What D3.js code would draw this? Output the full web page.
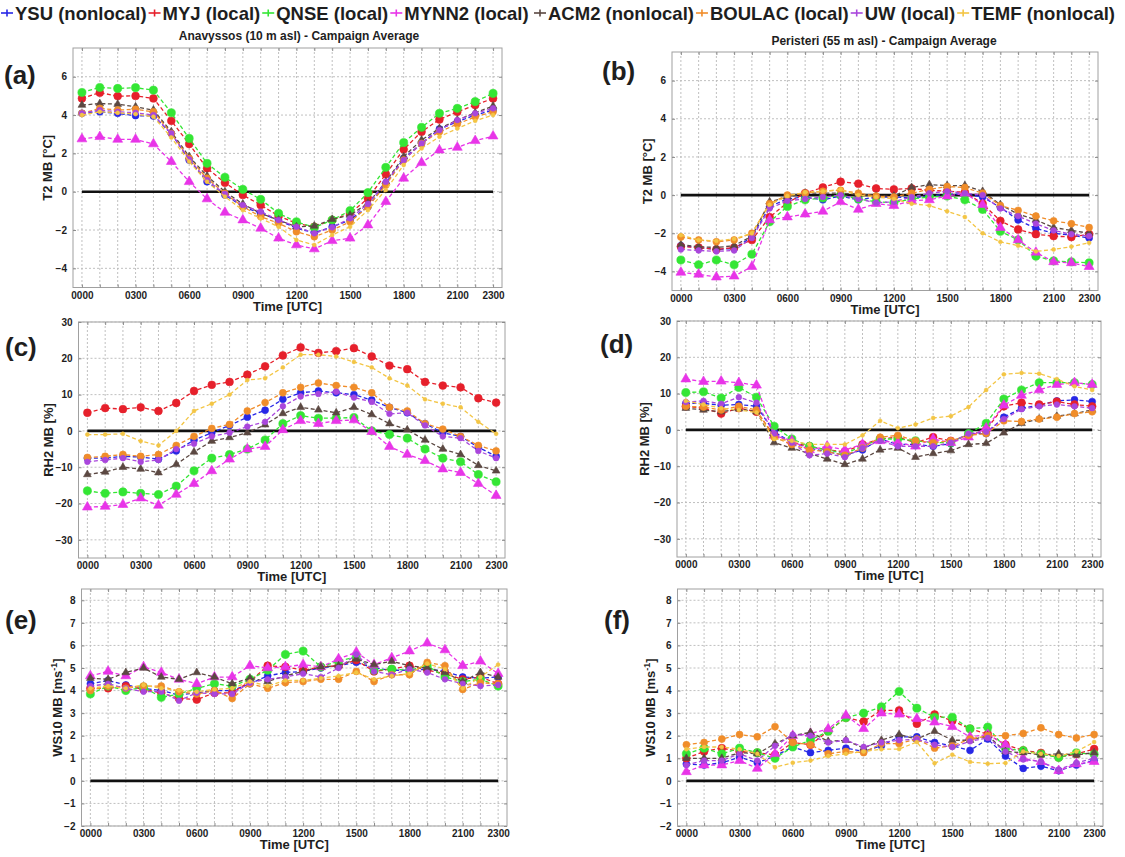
<!DOCTYPE html>
<html>
<head>
<meta charset="utf-8">
<script src="https://cdn.jsdelivr.net/npm/d3@7"></script>
<style>
  html, body { margin: 0; padding: 0; background: #fff; }
  svg { display: block; }
  text { font-family: "Liberation Sans", Arial, sans-serif; font-weight: bold; fill: #1e1e1e; }
</style>
</head>
<body>
<svg id="chart" width="1125" height="857"></svg>
<script>
// PBL schemes (order of the legend)
const schemes = ["YSU", "MYJ", "QNSE", "MYNN2", "ACM2", "BOULAC", "UW", "TEMF"];
const schemeLabels = ["YSU (nonlocal)", "MYJ (local)", "QNSE (local)", "MYNN2 (local)",
                      "ACM2 (nonlocal)", "BOULAC (local)", "UW (local)", "TEMF (nonlocal)"];

// hourly time axis (UTC)
const hours = [0,1,2,3,4,5,6,7,8,9,10,11,12,13,14,15,16,17,18,19,20,21,22,23];
const hourLabels = [0, 3, 6, 9, 12, 15, 18, 21, 23];

// y tick values
const t2Ticks = [-4, -2, 0, 2, 4, 6];
const rhTicks = [-30, -20, -10, 0, 10, 20, 30];
const wsTicks = [-2, -1, 0, 1, 2, 3, 4, 5, 6, 7, 8];

// 2 m temperature mean bias [°C] – Anavyssos
const t2Anavyssos = {
  YSU:    [4.09,4.17,4.09,3.97,3.95,3.04,1.65,0.52,-0.17,-0.78,-1.13,-1.48,-1.91,-2.14,-1.83,-1.48,-0.78,0.43,1.74,2.52,3.27,3.65,4.0,4.26],
  MYJ:    [4.87,5.17,4.99,5.0,4.87,3.7,2.49,1.22,0.47,-0.17,-0.7,-1.27,-1.65,-1.83,-1.48,-1.13,-0.35,0.92,2.21,3.13,3.77,4.17,4.52,4.87],
  QNSE:   [5.18,5.44,5.39,5.43,5.3,4.12,2.78,1.48,0.75,0.12,-0.4,-1.13,-1.57,-1.86,-1.48,-0.99,-0.05,1.27,2.56,3.36,4.09,4.35,4.7,5.13],
  MYNN2:  [2.75,2.87,2.73,2.73,2.49,1.57,0.52,-0.38,-1.08,-1.48,-1.91,-2.43,-2.78,-2.99,-2.56,-2.43,-1.74,-0.52,0.7,1.51,2.17,2.31,2.66,2.9],
  ACM2:   [4.52,4.6,4.57,4.43,4.26,3.13,1.83,0.82,0.0,-0.64,-1.13,-1.48,-1.83,-1.79,-1.44,-1.22,-0.61,0.52,1.83,2.7,3.3,3.74,4.12,4.47],
  BOULAC: [4.09,4.35,4.26,4.3,4.17,3.04,1.74,0.7,-0.09,-0.78,-1.3,-1.65,-2.09,-2.35,-2.0,-1.57,-0.78,0.35,1.65,2.52,3.13,3.53,3.91,4.17],
  UW:     [4.09,4.26,4.17,4.12,4.0,3.04,1.69,0.61,-0.12,-0.7,-1.04,-1.48,-1.83,-2.17,-1.86,-1.39,-0.64,0.52,1.65,2.52,3.22,3.74,4.09,4.35],
  TEMF:   [4.0,4.17,4.12,4.05,3.91,2.83,1.57,0.52,-0.26,-0.96,-1.39,-1.83,-2.52,-2.78,-2.26,-1.83,-0.96,0.09,1.39,2.26,2.87,3.3,3.7,4.0]
};

// 2 m temperature mean bias [°C] – Peristeri
const t2Peristeri = {
  YSU:    [-2.65,-2.75,-2.85,-2.8,-2.2,-0.6,-0.2,-0.1,-0.25,-0.05,-0.25,-0.1,-0.1,-0.15,-0.05,0.05,0.05,-0.1,-0.65,-1.3,-1.75,-2.0,-2.1,-2.25],
  MYJ:    [-2.7,-2.75,-2.85,-2.75,-2.35,-1.15,-0.4,0.1,0.4,0.7,0.6,0.35,0.3,0.35,0.25,0.2,0.15,-0.45,-1.35,-1.8,-2.05,-2.15,-2.2,-2.05],
  QNSE:   [-3.4,-3.65,-3.4,-3.65,-3.1,-1.4,-0.6,-0.25,-0.15,0.0,-0.2,-0.35,-0.4,-0.2,-0.1,-0.05,-0.25,-0.75,-1.9,-2.35,-3.2,-3.45,-3.5,-3.55],
  MYNN2:  [-4.05,-4.15,-4.3,-4.25,-3.75,-1.3,-1.15,-1.0,-0.85,-0.35,-0.75,-0.45,-0.55,-0.3,-0.25,-0.05,0.1,-0.5,-1.7,-2.35,-3.0,-3.5,-3.55,-3.75],
  ACM2:   [-2.6,-2.7,-2.75,-2.65,-2.15,-0.35,-0.1,0.1,0.1,0.1,0.05,-0.05,-0.05,0.4,0.55,0.5,0.5,0.2,-0.5,-1.0,-1.3,-1.7,-1.85,-2.0],
  BOULAC: [-2.2,-2.35,-2.45,-2.35,-2.0,-0.45,0.0,0.1,0.2,0.25,0.1,-0.05,-0.1,0.1,0.3,0.45,0.4,0.1,-0.55,-0.8,-1.1,-1.35,-1.5,-1.7],
  UW:     [-2.85,-2.9,-2.95,-2.9,-2.25,-0.7,-0.3,-0.2,-0.1,0.0,-0.2,-0.4,-0.35,-0.1,0.1,0.2,0.1,0.0,-0.7,-1.1,-1.5,-1.85,-2.05,-2.15],
  TEMF:   [-2.1,-2.35,-2.4,-2.3,-2.0,-0.5,-0.05,0.15,0.2,0.3,0.0,-0.1,-0.2,-0.45,-0.55,-0.85,-1.15,-2.0,-2.45,-2.65,-2.95,-2.85,-2.7,-2.5]
};

// 2 m relative humidity mean bias [%] – Anavyssos
const rh2Anavyssos = {
  YSU:    [-7.5,-7.5,-7,-7.2,-7.8,-5.5,-2.5,-0.5,1.5,3.8,5.7,8.7,10.5,11,10.5,10,8.5,6.5,5,2,-0.5,-1.5,-4.5,-7],
  MYJ:    [5,6.3,6,6.5,5.5,7.7,11,12.7,13.5,15.5,17.8,20.8,23,21.5,22,22.8,20.5,18,17,13.5,12.5,12,9,7.8],
  QNSE:   [-16.5,-17.2,-16.8,-17.2,-17.5,-15.2,-11,-7.5,-6.5,-5,-2.5,2,4.2,3.5,3.5,3.7,0,-1,-2,-5,-7.5,-8.5,-12,-14],
  MYNN2:  [-21,-20.8,-20.3,-18.5,-20.5,-17.5,-14.5,-11,-7.8,-5,-4.3,0.3,2.8,2,2.8,3,-0.2,-4.3,-6.5,-8.2,-10.5,-11.5,-14.5,-17.8],
  ACM2:   [-12,-11.3,-10,-10.5,-11.5,-9.2,-5.8,-2.8,-1.8,-0.5,1.7,4.8,6.5,5.8,5,6.5,4.5,2,0.3,-2.5,-5,-6.5,-9.5,-11],
  BOULAC: [-7.3,-7,-6.5,-7,-6.5,-4,-1.5,0.7,1.8,5.5,7.8,10.5,12,13.2,12.5,12,10.5,6.5,5.5,2,0.5,-1.5,-4,-5.5],
  UW:     [-8.5,-8,-7.5,-8.5,-8,-5,-3.5,-1.5,-0.5,1.2,2.5,6.8,9.5,10.2,10.8,9.2,8,4.7,5,1.5,-1.5,-2,-5.5,-7.5],
  TEMF:   [-1,-1,-0.8,-2.8,-4,0,5.5,7.5,10,14,14.5,17.5,21,21,20.5,19,17.5,14.5,12.5,8.7,7.5,6.5,2.5,-0.8]
};

// 2 m relative humidity mean bias [%] – Peristeri
const rh2Peristeri = {
  YSU:    [7.3,7.3,6.8,7,6.5,-0.5,-3.5,-5,-6,-7,-5.5,-2.5,-4,-4,-4.5,-3.8,-1,-1,3.5,6,6.8,8,8.3,7.8],
  MYJ:    [6.5,6,4.5,6,5,-1.5,-3.5,-4.5,-5.5,-6,-4,-2.5,-2,-3.5,-2,-3,-1.5,0,6.5,7.5,7,7.8,7,6.5],
  QNSE:   [10.3,10.5,8.8,11.7,9,1,-2.5,-4.5,-5.5,-6.5,-4.5,-2.5,-2.5,-3,-3.5,-3.5,-1,1.8,8.5,11,13,13,13,12.5],
  MYNN2:  [14,13.3,13.4,13,12.3,-1.5,-3,-5.5,-4.5,-5.5,-4,-3,-3.5,-4.5,-2.5,-3.5,-2,0.5,6.8,9.5,11,12.5,13,12.5],
  ACM2:   [6,5.5,5,5.8,5,-3.5,-5,-6.5,-8,-9.5,-8,-5.5,-5,-7.5,-6.5,-5.7,-4,-3.7,-0.8,1.8,3,3.8,4.5,5.5],
  BOULAC: [6.5,6.3,5.5,6.5,5.5,-2,-4,-5.5,-6,-7,-5,-2,-1.5,-3,-3.5,-3,-1.5,-1,2.5,2.3,3,3.5,4.5,5],
  UW:     [7.7,8,7.2,9,7.5,-1,-3.5,-7,-6.5,-7.5,-5,-3,-4.5,-4.5,-4.5,-3.5,-1,-0.5,3,5.7,6.5,7,6.5,6],
  TEMF:   [8,7,6,5.5,4.8,-2.5,-3,-4,-4,-4,-1.5,2.5,0.5,1.5,3.3,3.8,6.3,11,15.3,15.7,15.5,14,12,11]
};

// 10 m wind speed mean bias [m/s] – Anavyssos
const ws10Anavyssos = {
  YSU:    [4.3,4.45,4.25,4.1,4.0,3.8,3.9,4.0,4.0,4.3,4.65,4.8,4.85,5.0,5.1,5.25,5.0,4.9,4.9,4.95,4.85,4.6,4.55,4.6],
  MYJ:    [4.1,4.1,4.2,4.05,3.9,3.65,3.6,3.9,3.9,4.4,5.1,5.05,4.9,5.05,5.1,5.35,4.85,4.95,5.1,4.9,4.75,4.5,4.6,4.3],
  QNSE:   [3.85,4.2,4.0,4.15,3.7,3.85,4.1,4.3,4.2,4.5,4.9,5.6,5.75,5.05,5.3,5.5,4.9,4.95,4.9,5.1,4.6,4.4,4.5,4.2],
  MYNN2:  [4.65,4.85,4.65,5.05,4.8,4.5,4.3,4.6,4.6,5.1,5.0,5.05,5.15,5.05,5.4,5.7,5.15,5.45,5.75,6.1,5.8,5.1,5.3,4.75],
  ACM2:   [4.55,4.5,4.8,5.0,4.6,4.5,4.8,4.6,4.3,4.55,4.4,4.65,4.85,5.05,5.1,5.4,5.15,5.3,5.1,5.0,4.8,4.4,4.8,4.6],
  BOULAC: [4.0,4.2,4.1,4.2,4.2,3.95,3.85,4.0,3.65,4.3,4.1,4.35,4.4,4.5,4.5,4.85,4.4,4.7,4.7,5.25,5.1,4.05,4.35,4.3],
  UW:     [4.2,4.3,4.1,3.95,3.95,3.55,3.9,3.85,3.85,4.35,4.5,4.6,4.75,4.6,5.0,5.6,4.85,4.7,4.95,4.8,4.5,4.3,4.2,4.25],
  TEMF:   [4.1,4.2,4.1,4.25,4.1,4.0,3.95,4.05,4.1,4.4,4.2,4.45,4.45,4.55,4.65,4.8,4.5,4.65,4.75,5.2,4.95,4.1,4.6,5.15]
};

// 10 m wind speed mean bias [m/s] – Peristeri
const ws10Peristeri = {
  YSU:    [0.75,0.7,0.8,1.05,0.8,1.1,1.5,1.25,1.35,1.45,1.3,1.55,1.95,1.95,1.7,1.55,1.35,1.85,1.1,0.55,0.65,0.45,0.7,0.9],
  MYJ:    [1.0,1.3,1.45,1.3,1.25,1.15,1.7,1.6,2.2,2.8,2.63,3.12,3.12,2.53,2.94,2.66,2.31,2.07,1.6,1.35,1.24,1.04,1.19,1.41],
  QNSE:   [1.2,1.45,1.2,1.45,1.25,1.0,1.5,1.8,2.2,2.8,3.0,3.28,3.96,3.22,2.82,2.82,2.31,2.38,1.43,1.34,1.19,1.04,1.24,1.18],
  MYNN2:  [0.4,0.7,0.7,0.9,0.55,1.2,2.0,2.1,2.3,2.9,2.31,3.0,2.95,2.75,2.6,2.4,1.95,2.05,1.6,1.0,0.85,0.45,0.75,0.85],
  ACM2:   [1.0,1.0,1.0,1.25,1.2,1.65,2.0,2.15,1.75,1.8,1.45,1.8,2.05,1.85,2.2,1.8,1.8,2.0,1.3,1.25,1.15,1.2,1.15,1.25],
  BOULAC: [1.6,1.7,1.85,2.05,1.95,2.4,1.7,1.6,1.2,1.3,1.25,1.65,1.65,1.85,1.45,1.55,1.85,2.0,2.0,2.1,2.35,2.05,1.9,2.05],
  UW:     [0.7,0.9,0.9,1.2,0.9,1.55,2.05,2.0,1.7,1.8,1.5,1.7,1.8,1.85,1.6,1.5,1.75,1.9,1.3,0.95,0.85,0.5,0.8,1.0],
  TEMF:   [1.4,1.5,1.5,1.4,1.2,0.6,0.8,0.9,1.1,1.2,1.3,1.4,1.41,1.72,0.78,1.16,0.84,0.76,0.79,1.3,1.2,1.1,1.3,1.72]
};

// line / marker style of each scheme
const schemeStyle = {
  YSU:    { color: "#2727e6", shape: d3.symbolCircle,   size: 38 },
  MYJ:    { color: "#e6202b", shape: d3.symbolCircle,   size: 48 },
  QNSE:   { color: "#34e634", shape: d3.symbolCircle,   size: 52 },
  MYNN2:  { color: "#e834e8", shape: d3.symbolTriangle, size: 42 },
  ACM2:   { color: "#5b4842", shape: d3.symbolTriangle, size: 26 },
  BOULAC: { color: "#f08d2a", shape: d3.symbolCircle,   size: 38 },
  UW:     { color: "#a946dc", shape: d3.symbolCircle,   size: 26 },
  TEMF:   { color: "#f3c544", shape: d3.symbolCircle,   size: 12 }
};

// panel layout
const panels = [
  { tag: "(a)", values: t2Anavyssos,  domain: [-5, 7.5], ticks: t2Ticks, label: "T2 MB [°C]",  box: [73, 502, 48, 287.5],   tagAt: [4, 84],    labelX: 52 },
  { tag: "(b)", values: t2Peristeri,  domain: [-5, 7.5], ticks: t2Ticks, label: "T2 MB [°C]",  box: [672, 1098, 52, 290.5], tagAt: [602, 80],  labelX: 652 },
  { tag: "(c)", values: rh2Anavyssos, domain: [-35, 30], ticks: rhTicks, label: "RH2 MB [%]",  box: [78.5, 505, 322, 558],  tagAt: [5, 356],   labelX: 53 },
  { tag: "(d)", values: rh2Peristeri, domain: [-35, 30], ticks: rhTicks, label: "RH2 MB [%]",  box: [677, 1101, 321, 557],  tagAt: [600, 353], labelX: 649 },
  { tag: "(e)", values: ws10Anavyssos,domain: [-2, 8.5], ticks: wsTicks, label: "WS10",        box: [81.5, 507, 589, 826],  tagAt: [5, 629],   labelX: 62 },
  { tag: "(f)", values: ws10Peristeri,domain: [-2, 8.5], ticks: wsTicks, label: "WS10",        box: [677.5, 1103, 589, 826],tagAt: [604, 629], labelX: 655 }
];

const svg = d3.select("#chart");
const fmtHour = h => String(h * 100).padStart(4, "0");

panels.forEach(p => {
  const [l, r, t, b] = p.box;
  const x = d3.scaleLinear().domain([-0.5, 23.5]).range([l, r]);
  const y = d3.scaleLinear().domain(p.domain).range([b, t]);
  const g = svg.append("g");

  // frame
  g.append("rect").attr("x", l).attr("y", t).attr("width", r - l).attr("height", b - t)
    .attr("fill", "#fff").attr("stroke", "#a0a0a0").attr("stroke-width", 1);

  // grid: one dotted vertical line per hour, one horizontal per y tick
  g.append("g").selectAll("line").data(hours).join("line")
    .attr("x1", d => x(d)).attr("x2", d => x(d)).attr("y1", t).attr("y2", b)
    .attr("stroke", "#b9b9b9").attr("stroke-width", 0.9).attr("stroke-dasharray", "2,2");
  g.append("g").selectAll("line").data(p.ticks).join("line")
    .attr("x1", l).attr("x2", r).attr("y1", d => y(d)).attr("y2", d => y(d))
    .attr("stroke", "#b9b9b9").attr("stroke-width", 0.9).attr("stroke-dasharray", "2,2");

  // hour tick marks on bottom and top edges
  const tickAxisB = g.append("g").attr("transform", `translate(0,${b})`)
    .call(d3.axisBottom(x).tickValues(hours).tickSize(-3).tickFormat(""));
  const tickAxisT = g.append("g").attr("transform", `translate(0,${t})`)
    .call(d3.axisTop(x).tickValues(hours).tickSize(-3).tickFormat(""));
  [tickAxisB, tickAxisT].forEach(a => {
    a.select(".domain").remove();
    a.selectAll("line").attr("stroke", "#8c8c8c");
  });

  // labelled x axis
  const xa = g.append("g").attr("transform", `translate(0,${b})`)
    .call(d3.axisBottom(x).tickValues(hourLabels).tickSize(0).tickPadding(4).tickFormat(fmtHour));
  xa.select(".domain").remove();
  xa.selectAll("text").attr("font-size", 10).attr("fill", "#1e1e1e")
    .style("font-family", '"Liberation Sans", Arial, sans-serif').style("font-weight", "bold");

  // labelled y axis
  const ya = g.append("g").attr("transform", `translate(${l},0)`)
    .call(d3.axisLeft(y).tickValues(p.ticks).tickSize(-3).tickPadding(6).tickFormat(d3.format("d")));
  ya.select(".domain").remove();
  ya.selectAll("line").attr("stroke", "#8c8c8c");
  ya.selectAll("text").attr("font-size", 10).attr("fill", "#1e1e1e")
    .style("font-family", '"Liberation Sans", Arial, sans-serif').style("font-weight", "bold");
  const yr = g.append("g").attr("transform", `translate(${r},0)`)
    .call(d3.axisRight(y).tickValues(p.ticks).tickSize(-3).tickFormat(""));
  yr.select(".domain").remove();
  yr.selectAll("line").attr("stroke", "#8c8c8c");

  // zero reference line
  g.append("line").attr("x1", x(0)).attr("x2", x(23)).attr("y1", y(0)).attr("y2", y(0))
    .attr("stroke", "#111").attr("stroke-width", 2.6);

  // scheme series
  const line = d3.line().x((d, i) => x(hours[i])).y(d => y(d));
  schemes.forEach(s => {
    const st = schemeStyle[s];
    const vals = p.values[s];
    const sg = g.append("g");
    sg.append("path").attr("d", line(vals)).attr("fill", "none")
      .attr("stroke", st.color).attr("stroke-width", 1.3).attr("stroke-dasharray", "4,2.5");
    sg.selectAll("path.m").data(vals).join("path").attr("class", "m")
      .attr("transform", (d, i) => `translate(${x(hours[i])},${y(d)})`)
      .attr("d", d3.symbol().type(st.shape).size(st.size)())
      .attr("fill", st.color).attr("stroke", st.color).attr("stroke-width", 0.6);
  });

  // axis titles
  g.append("text").attr("x", (l + r) / 2).attr("y", b + 23).attr("text-anchor", "middle")
    .attr("font-size", 13).text("Time [UTC]");
  const yl = g.append("text").attr("transform", `translate(${p.labelX},${(t + b) / 2}) rotate(-90)`)
    .attr("text-anchor", "middle").attr("font-size", 13);
  if (p.label === "WS10") {
    yl.append("tspan").text("WS10 MB [ms");
    yl.append("tspan").attr("font-size", 9).attr("dy", -5).text("-1");
    yl.append("tspan").attr("dy", 5).text("]");
  } else {
    yl.text(p.label);
  }

  // panel tag
  g.append("text").attr("x", p.tagAt[0]).attr("y", p.tagAt[1]).attr("font-size", 26).text(p.tag);
});

// station titles
svg.append("text").attr("x", 299).attr("y", 40).attr("text-anchor", "middle").attr("font-size", 12)
  .text("Anavyssos (10 m asl) - Campaign Average");
svg.append("text").attr("x", 884).attr("y", 45).attr("text-anchor", "middle").attr("font-size", 12)
  .text("Peristeri (55 m asl) - Campaign Average");

// legend: two groups of four entries
const legend = svg.append("g");
const groupStart = [1, 534];
let lx = 0;
schemes.forEach((s, i) => {
  if (i === 0 || i === 4) lx = groupStart[i === 0 ? 0 : 1];
  const st = schemeStyle[s];
  const item = legend.append("g");
  const mx = lx + 6;
  item.append("line").attr("x1", mx - 6).attr("x2", mx + 6).attr("y1", 13).attr("y2", 13)
    .attr("stroke", st.color).attr("stroke-width", 1.6);
  item.append("line").attr("x1", mx).attr("x2", mx).attr("y1", 9.5).attr("y2", 16.5)
    .attr("stroke", st.color).attr("stroke-width", 1.6);
  const tx = item.append("text").attr("x", mx + 8).attr("y", 20).attr("font-size", 18.5)
    .text(schemeLabels[i]);
  lx = mx + 8 + tx.node().getComputedTextLength() + 2;
});
</script>
</body>
</html>
